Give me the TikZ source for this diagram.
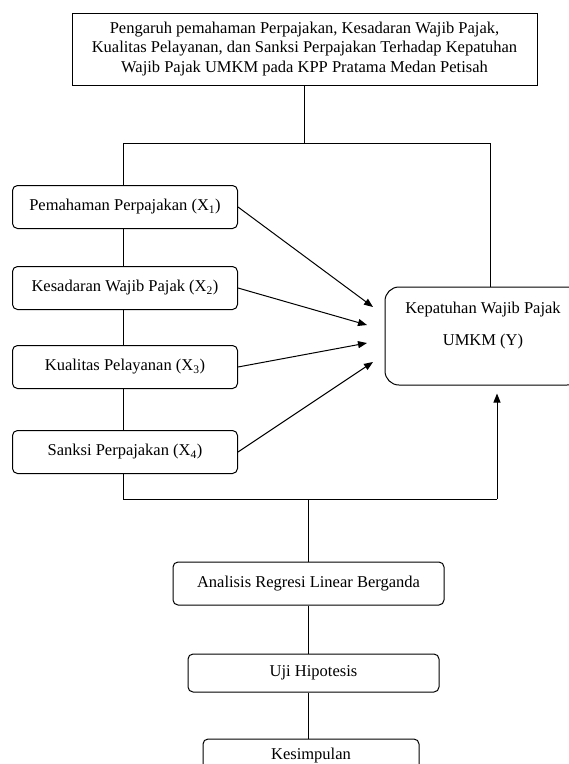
\documentclass[tikz,border=0pt]{standalone}
\usepackage{fontspec}
\setmainfont{Liberation Serif}
\usetikzlibrary{positioning,arrows.meta}

\begin{document}
\begin{tikzpicture}[
    x=1pt, y=-1pt,
    >={Triangle[length=9pt,width=7pt]},
    line width=1pt,
    font=\fontsize{16.5}{19.5}\selectfont,
    judulbox/.style={draw, rectangle, minimum width=465pt, minimum height=72pt, align=center},
    varbox/.style={draw, rounded corners=5pt, minimum width=225pt, minimum height=43pt},
    ybox/.style={draw, rounded corners=14pt, minimum width=196pt, minimum height=98pt, align=center},
    stepbox/.style={draw, rounded corners=5pt, minimum height=43pt}
]
\useasboundingbox (0,0) rectangle (569,764);

\node[judulbox] (judul) at (304.5,49) {Pengaruh pemahaman Perpajakan, Kesadaran Wajib Pajak,\\
  Kualitas Pelayanan, dan Sanksi Perpajakan Terhadap Kepatuhan\\
  Wajib Pajak UMKM pada KPP Pratama Medan Petisah};

\node[varbox] (x1) at (125,207) {Pemahaman Perpajakan (X\textsubscript{1})};
\node[varbox, below=37pt of x1] (x2) {Kesadaran Wajib Pajak (X\textsubscript{2})};
\node[varbox, below=35pt of x2] (x3) {Kualitas Pelayanan (X\textsubscript{3})};
\node[varbox, below=41pt of x3] (x4) {Sanksi Perpajakan (X\textsubscript{4})};

\node[ybox] (kepatuhan) at (483,336) {Kepatuhan Wajib Pajak\\[12.5pt]UMKM (Y)\\[4.5pt]\mbox{}};

\node[stepbox, minimum width=271pt] (analisis) at (308.5,583.5) {Analisis Regresi Linear Berganda};
\node[stepbox, minimum width=251pt, minimum height=38pt, below=48pt of analisis, xshift=5pt] (uji) {Uji Hipotesis};
\node[stepbox, minimum width=216pt, minimum height=34pt, below=46pt of uji, xshift=-2.5pt] (kesimpulan) {Kesimpulan};

% titik sudut garis
\coordinate (kiriatas) at (123,143);
\coordinate (kananatas) at (490,143);
\coordinate (kiribawah) at (123,499);
\coordinate (tengahbawah) at (308,499);
\coordinate (kananbawah) at (497,499);
\coordinate (t1) at (373,307);
\coordinate (t2) at (367,325);
\coordinate (t3) at (367,343);
\coordinate (t4) at (373,362);

\draw (judul.south) -- (judul.south |- kiriatas);
\draw (x1.north -| kiriatas) -- (kiriatas) -- (kananatas) -- (kananatas |- kepatuhan.north);
\foreach \a/\b in {x1/x2,x2/x3,x3/x4}
    \draw (\a.south -| kiriatas) -- (\b.north -| kiriatas);
\draw (x4.south -| kiribawah) -- (kiribawah) -- (kananbawah);
\draw[->] (kananbawah) -- ([yshift=-8pt]kepatuhan.south -| kananbawah);

\foreach \i in {1,...,4}
    \draw[->] (x\i.east) -- (t\i);

\draw (tengahbawah) -- (tengahbawah |- analisis.north);
\draw (tengahbawah |- analisis.south) -- (tengahbawah |- uji.north);
\draw (tengahbawah |- uji.south) -- (tengahbawah |- kesimpulan.north);

\end{tikzpicture}
\end{document}
